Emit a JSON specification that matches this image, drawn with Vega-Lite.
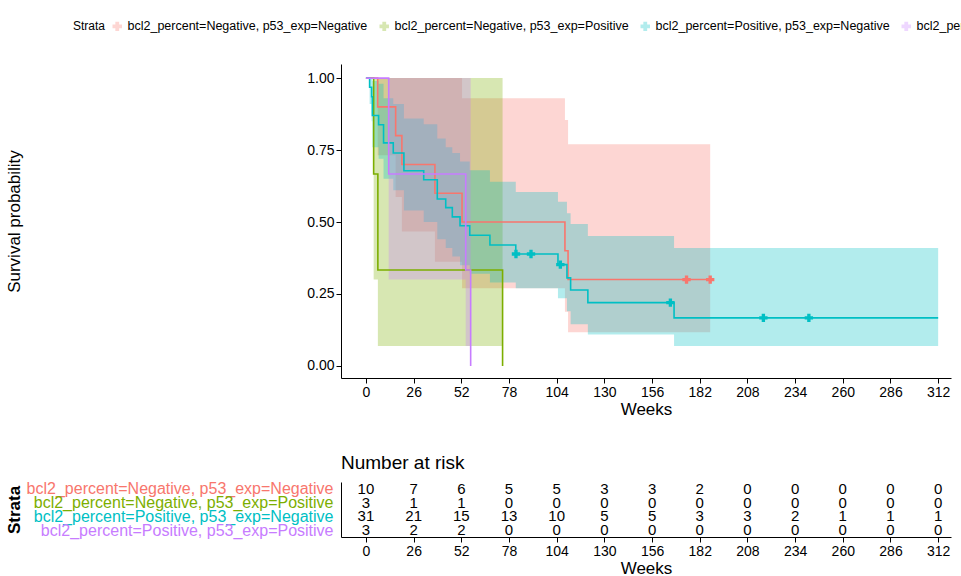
{
"$schema": "https://vega.github.io/schema/vega-lite/v6.json",
"padding": {"left": 5, "top": 20, "right": 4, "bottom": 5},
"background": "white",
"datasets": {
  "km": [
    {"s": "bcl2_percent=Negative, p53_exp=Negative", "t": 0, "surv": 1, "lo": 1, "hi": 1},
    {"s": "bcl2_percent=Negative, p53_exp=Negative", "t": 6.4, "surv": 0.9, "lo": 0.732, "hi": 1},
    {"s": "bcl2_percent=Negative, p53_exp=Negative", "t": 16.2, "surv": 0.8, "lo": 0.587, "hi": 1},
    {"s": "bcl2_percent=Negative, p53_exp=Negative", "t": 19.6, "surv": 0.7, "lo": 0.467, "hi": 1},
    {"s": "bcl2_percent=Negative, p53_exp=Negative", "t": 37.6, "surv": 0.6, "lo": 0.362, "hi": 1},
    {"s": "bcl2_percent=Negative, p53_exp=Negative", "t": 52.4, "surv": 0.5, "lo": 0.27, "hi": 0.93},
    {"s": "bcl2_percent=Negative, p53_exp=Negative", "t": 108.5, "surv": 0.4, "lo": 0.188, "hi": 0.854},
    {"s": "bcl2_percent=Negative, p53_exp=Negative", "t": 110.2, "surv": 0.3, "lo": 0.117, "hi": 0.77},
    {"s": "bcl2_percent=Negative, p53_exp=Negative", "t": 187.7, "surv": 0.3, "lo": 0.117, "hi": 0.77},
    {"s": "bcl2_percent=Negative, p53_exp=Positive", "t": 0, "surv": 1, "lo": 1, "hi": 1},
    {"s": "bcl2_percent=Negative, p53_exp=Positive", "t": 4.2, "surv": 0.667, "lo": 0.3, "hi": 1},
    {"s": "bcl2_percent=Negative, p53_exp=Positive", "t": 6.5, "surv": 0.333, "lo": 0.069, "hi": 1},
    {"s": "bcl2_percent=Negative, p53_exp=Positive", "t": 74.5, "surv": 0, "lo": 0.069, "hi": 1},
    {"s": "bcl2_percent=Positive, p53_exp=Negative", "t": 0, "surv": 1, "lo": 1, "hi": 1},
    {"s": "bcl2_percent=Positive, p53_exp=Negative", "t": 2.0, "surv": 0.968, "lo": 0.91, "hi": 1},
    {"s": "bcl2_percent=Positive, p53_exp=Negative", "t": 3.1, "surv": 0.935, "lo": 0.85, "hi": 1},
    {"s": "bcl2_percent=Positive, p53_exp=Negative", "t": 3.5, "surv": 0.87, "lo": 0.76, "hi": 0.99},
    {"s": "bcl2_percent=Positive, p53_exp=Negative", "t": 6.9, "surv": 0.838, "lo": 0.72, "hi": 0.98},
    {"s": "bcl2_percent=Positive, p53_exp=Negative", "t": 9.6, "surv": 0.775, "lo": 0.65, "hi": 0.93},
    {"s": "bcl2_percent=Positive, p53_exp=Negative", "t": 14.9, "surv": 0.74, "lo": 0.61, "hi": 0.91},
    {"s": "bcl2_percent=Positive, p53_exp=Negative", "t": 20.7, "surv": 0.678, "lo": 0.54, "hi": 0.86},
    {"s": "bcl2_percent=Positive, p53_exp=Negative", "t": 31.5, "surv": 0.647, "lo": 0.5, "hi": 0.84},
    {"s": "bcl2_percent=Positive, p53_exp=Negative", "t": 38.9, "surv": 0.58, "lo": 0.44, "hi": 0.79},
    {"s": "bcl2_percent=Positive, p53_exp=Negative", "t": 43.5, "surv": 0.55, "lo": 0.41, "hi": 0.76},
    {"s": "bcl2_percent=Positive, p53_exp=Negative", "t": 47.1, "surv": 0.518, "lo": 0.38, "hi": 0.74},
    {"s": "bcl2_percent=Positive, p53_exp=Negative", "t": 51.3, "surv": 0.487, "lo": 0.35, "hi": 0.71},
    {"s": "bcl2_percent=Positive, p53_exp=Negative", "t": 56.6, "surv": 0.454, "lo": 0.32, "hi": 0.68},
    {"s": "bcl2_percent=Positive, p53_exp=Negative", "t": 67.6, "surv": 0.42, "lo": 0.29, "hi": 0.64},
    {"s": "bcl2_percent=Positive, p53_exp=Negative", "t": 81.7, "surv": 0.389, "lo": 0.27, "hi": 0.604},
    {"s": "bcl2_percent=Positive, p53_exp=Negative", "t": 104.7, "surv": 0.352, "lo": 0.235, "hi": 0.57},
    {"s": "bcl2_percent=Positive, p53_exp=Negative", "t": 109.6, "surv": 0.306, "lo": 0.19, "hi": 0.53},
    {"s": "bcl2_percent=Positive, p53_exp=Negative", "t": 111.6, "surv": 0.264, "lo": 0.145, "hi": 0.493},
    {"s": "bcl2_percent=Positive, p53_exp=Negative", "t": 121, "surv": 0.22, "lo": 0.109, "hi": 0.451},
    {"s": "bcl2_percent=Positive, p53_exp=Negative", "t": 168, "surv": 0.167, "lo": 0.069, "hi": 0.41},
    {"s": "bcl2_percent=Positive, p53_exp=Negative", "t": 312, "surv": 0.167, "lo": 0.069, "hi": 0.41},
    {"s": "bcl2_percent=Positive, p53_exp=Positive", "t": 0, "surv": 1, "lo": 1, "hi": 1},
    {"s": "bcl2_percent=Positive, p53_exp=Positive", "t": 12.4, "surv": 0.667, "lo": 0.3, "hi": 1},
    {"s": "bcl2_percent=Positive, p53_exp=Positive", "t": 54.4, "surv": 0.333, "lo": 0.069, "hi": 1},
    {"s": "bcl2_percent=Positive, p53_exp=Positive", "t": 57.1, "surv": 0, "lo": 0.069, "hi": 1}
  ],
  "censor": [
    {"s": "bcl2_percent=Negative, p53_exp=Negative", "t": 174.8, "surv": 0.3},
    {"s": "bcl2_percent=Negative, p53_exp=Negative", "t": 187.7, "surv": 0.3},
    {"s": "bcl2_percent=Positive, p53_exp=Negative", "t": 81.8, "surv": 0.389},
    {"s": "bcl2_percent=Positive, p53_exp=Negative", "t": 90, "surv": 0.389},
    {"s": "bcl2_percent=Positive, p53_exp=Negative", "t": 106, "surv": 0.352},
    {"s": "bcl2_percent=Positive, p53_exp=Negative", "t": 166, "surv": 0.22},
    {"s": "bcl2_percent=Positive, p53_exp=Negative", "t": 216.7, "surv": 0.167},
    {"s": "bcl2_percent=Positive, p53_exp=Negative", "t": 241.5, "surv": 0.167}
  ],
  "risk": [
    {"s": "bcl2_percent=Negative, p53_exp=Negative", "t": 0, "n": 10},
    {"s": "bcl2_percent=Negative, p53_exp=Negative", "t": 26, "n": 7},
    {"s": "bcl2_percent=Negative, p53_exp=Negative", "t": 52, "n": 6},
    {"s": "bcl2_percent=Negative, p53_exp=Negative", "t": 78, "n": 5},
    {"s": "bcl2_percent=Negative, p53_exp=Negative", "t": 104, "n": 5},
    {"s": "bcl2_percent=Negative, p53_exp=Negative", "t": 130, "n": 3},
    {"s": "bcl2_percent=Negative, p53_exp=Negative", "t": 156, "n": 3},
    {"s": "bcl2_percent=Negative, p53_exp=Negative", "t": 182, "n": 2},
    {"s": "bcl2_percent=Negative, p53_exp=Negative", "t": 208, "n": 0},
    {"s": "bcl2_percent=Negative, p53_exp=Negative", "t": 234, "n": 0},
    {"s": "bcl2_percent=Negative, p53_exp=Negative", "t": 260, "n": 0},
    {"s": "bcl2_percent=Negative, p53_exp=Negative", "t": 286, "n": 0},
    {"s": "bcl2_percent=Negative, p53_exp=Negative", "t": 312, "n": 0},
    {"s": "bcl2_percent=Negative, p53_exp=Positive", "t": 0, "n": 3},
    {"s": "bcl2_percent=Negative, p53_exp=Positive", "t": 26, "n": 1},
    {"s": "bcl2_percent=Negative, p53_exp=Positive", "t": 52, "n": 1},
    {"s": "bcl2_percent=Negative, p53_exp=Positive", "t": 78, "n": 0},
    {"s": "bcl2_percent=Negative, p53_exp=Positive", "t": 104, "n": 0},
    {"s": "bcl2_percent=Negative, p53_exp=Positive", "t": 130, "n": 0},
    {"s": "bcl2_percent=Negative, p53_exp=Positive", "t": 156, "n": 0},
    {"s": "bcl2_percent=Negative, p53_exp=Positive", "t": 182, "n": 0},
    {"s": "bcl2_percent=Negative, p53_exp=Positive", "t": 208, "n": 0},
    {"s": "bcl2_percent=Negative, p53_exp=Positive", "t": 234, "n": 0},
    {"s": "bcl2_percent=Negative, p53_exp=Positive", "t": 260, "n": 0},
    {"s": "bcl2_percent=Negative, p53_exp=Positive", "t": 286, "n": 0},
    {"s": "bcl2_percent=Negative, p53_exp=Positive", "t": 312, "n": 0},
    {"s": "bcl2_percent=Positive, p53_exp=Negative", "t": 0, "n": 31},
    {"s": "bcl2_percent=Positive, p53_exp=Negative", "t": 26, "n": 21},
    {"s": "bcl2_percent=Positive, p53_exp=Negative", "t": 52, "n": 15},
    {"s": "bcl2_percent=Positive, p53_exp=Negative", "t": 78, "n": 13},
    {"s": "bcl2_percent=Positive, p53_exp=Negative", "t": 104, "n": 10},
    {"s": "bcl2_percent=Positive, p53_exp=Negative", "t": 130, "n": 5},
    {"s": "bcl2_percent=Positive, p53_exp=Negative", "t": 156, "n": 5},
    {"s": "bcl2_percent=Positive, p53_exp=Negative", "t": 182, "n": 3},
    {"s": "bcl2_percent=Positive, p53_exp=Negative", "t": 208, "n": 3},
    {"s": "bcl2_percent=Positive, p53_exp=Negative", "t": 234, "n": 2},
    {"s": "bcl2_percent=Positive, p53_exp=Negative", "t": 260, "n": 1},
    {"s": "bcl2_percent=Positive, p53_exp=Negative", "t": 286, "n": 1},
    {"s": "bcl2_percent=Positive, p53_exp=Negative", "t": 312, "n": 1},
    {"s": "bcl2_percent=Positive, p53_exp=Positive", "t": 0, "n": 3},
    {"s": "bcl2_percent=Positive, p53_exp=Positive", "t": 26, "n": 2},
    {"s": "bcl2_percent=Positive, p53_exp=Positive", "t": 52, "n": 2},
    {"s": "bcl2_percent=Positive, p53_exp=Positive", "t": 78, "n": 0},
    {"s": "bcl2_percent=Positive, p53_exp=Positive", "t": 104, "n": 0},
    {"s": "bcl2_percent=Positive, p53_exp=Positive", "t": 130, "n": 0},
    {"s": "bcl2_percent=Positive, p53_exp=Positive", "t": 156, "n": 0},
    {"s": "bcl2_percent=Positive, p53_exp=Positive", "t": 182, "n": 0},
    {"s": "bcl2_percent=Positive, p53_exp=Positive", "t": 208, "n": 0},
    {"s": "bcl2_percent=Positive, p53_exp=Positive", "t": 234, "n": 0},
    {"s": "bcl2_percent=Positive, p53_exp=Positive", "t": 260, "n": 0},
    {"s": "bcl2_percent=Positive, p53_exp=Positive", "t": 286, "n": 0},
    {"s": "bcl2_percent=Positive, p53_exp=Positive", "t": 312, "n": 0}
  ]
},
"spacing": 36,
"vconcat": [
{
  "width": 610,
  "height": 314,
  "layer": [
    {
      "data": {"name": "km"},
      "mark": {"type": "area", "interpolate": "step-after", "opacity": 0.3},
      "encoding": {
        "x": {"field": "t", "type": "quantitative"},
        "y": {"field": "lo", "type": "quantitative"},
        "y2": {"field": "hi"},
        "color": {"field": "s", "type": "nominal"}
      }
    },
    {
      "data": {"name": "km"},
      "mark": {"type": "line", "interpolate": "step-after", "strokeWidth": 1.6},
      "encoding": {
        "x": {"field": "t", "type": "quantitative"},
        "y": {"field": "surv", "type": "quantitative"},
        "color": {"field": "s", "type": "nominal", "title": "Strata"}
      }
    },
    {
      "data": {"name": "censor"},
      "mark": {"type": "point", "shape": "cross", "filled": true, "size": 70, "opacity": 1},
      "encoding": {
        "x": {"field": "t", "type": "quantitative"},
        "y": {"field": "surv", "type": "quantitative"},
        "color": {"field": "s", "type": "nominal"}
      }
    }
  ],
  "encoding": {
    "x": {"scale": {"domain": [-13.6, 319], "nice": false, "zero": false},
          "axis": {"values": [0, 26, 52, 78, 104, 130, 156, 182, 208, 234, 260, 286, 312], "title": "Weeks", "titlePadding": 2}},
    "y": {"scale": {"domain": [-0.042, 1.049], "nice": false},
          "axis": {"values": [0, 0.25, 0.5, 0.75, 1], "format": ".2f", "title": "Survival probability", "titleX": -318}}
  }
},
{
  "width": 610,
  "height": 55,
  "data": {"name": "risk"},
  "title": {"text": "Number at risk", "anchor": "start", "frame": "group", "fontSize": 19, "fontWeight": "normal", "font": "Liberation Sans", "color": "black", "offset": 8},
  "mark": {"type": "text", "fontSize": 15, "font": "Liberation Sans", "color": "black"},
  "encoding": {
    "x": {"field": "t", "type": "quantitative",
          "scale": {"domain": [-13.6, 319], "nice": false, "zero": false},
          "axis": {"values": [0, 26, 52, 78, 104, 130, 156, 182, 208, 234, 260, 286, 312], "title": "Weeks", "titlePadding": 2}},
    "y": {"field": "s", "type": "nominal",
          "sort": ["bcl2_percent=Negative, p53_exp=Negative", "bcl2_percent=Negative, p53_exp=Positive", "bcl2_percent=Positive, p53_exp=Negative", "bcl2_percent=Positive, p53_exp=Positive"],
          "scale": {"paddingOuter": 0.05},
          "axis": {"title": "Strata", "titleFontWeight": "bold", "titleX": -318, "labelLimit": 0, "labelFontSize": 16, "ticks": false, "labelPadding": 8,
                   "labelColor": {"condition": [
                      {"test": "datum.value == 'bcl2_percent=Negative, p53_exp=Negative'", "value": "#F8766D"},
                      {"test": "datum.value == 'bcl2_percent=Negative, p53_exp=Positive'", "value": "#7CAE00"},
                      {"test": "datum.value == 'bcl2_percent=Positive, p53_exp=Negative'", "value": "#00BFC4"}],
                      "value": "#C77CFF"}}},
    "text": {"field": "n", "type": "quantitative"}
  }
}
],
"config": {
  "font": "Liberation Sans",
  "view": {"stroke": null},
  "range": {"category": ["#F8766D", "#7CAE00", "#00BFC4", "#C77CFF"]},
  "axis": {"grid": false, "domainColor": "black", "tickColor": "black", "labelColor": "black", "labelFontSize": 14,
           "titleColor": "black", "titleFontSize": 17, "titleFontWeight": "normal", "labelFont": "Liberation Sans", "titleFont": "Liberation Sans"},
  "legend": {"orient": "none", "legendX": -268, "legendY": -44, "direction": "horizontal", "columns": 4,
             "titleOrient": "left", "titleFontWeight": "normal", "titleFontSize": 12, "titleColor": "black",
             "labelFontSize": 12.5, "labelColor": "black", "symbolType": "cross", "symbolSize": 90, "symbolStrokeWidth": 0, "columnPadding": 10, "labelLimit": 0}
}
}
